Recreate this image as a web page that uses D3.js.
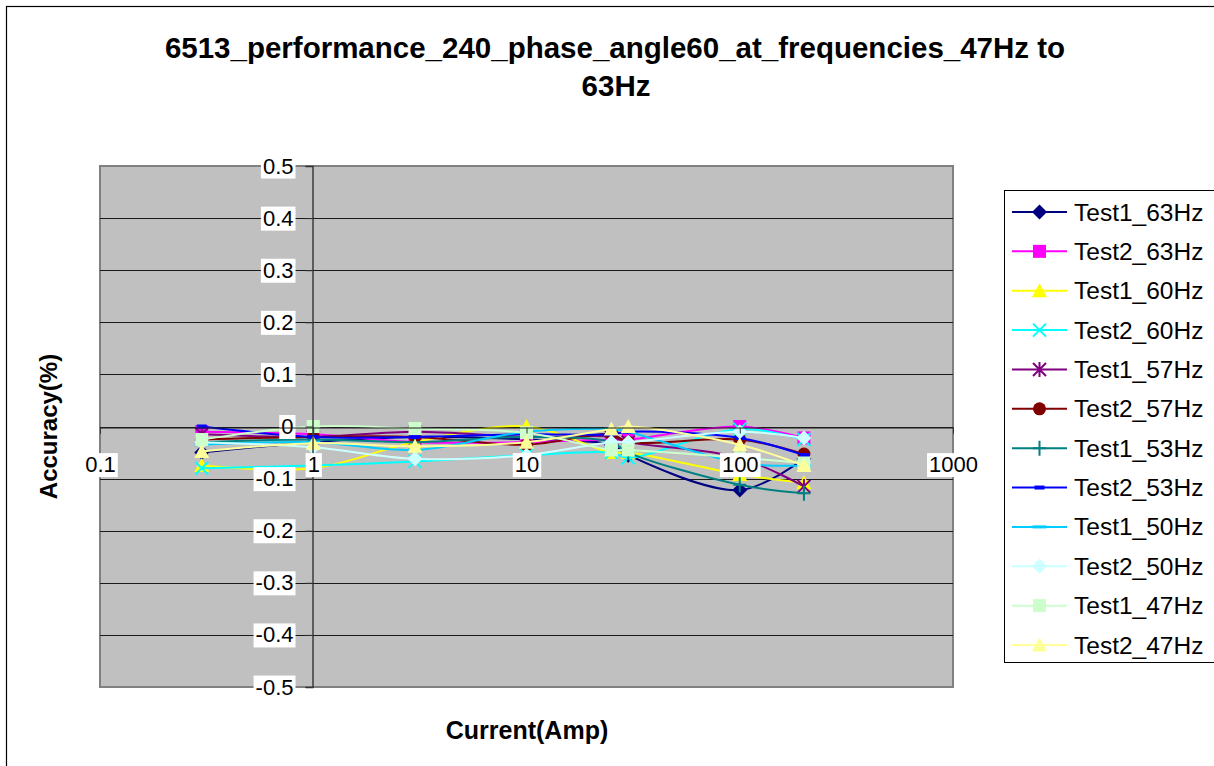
<!DOCTYPE html>
<html>
<head>
<meta charset="utf-8">
<script src="https://cdn.jsdelivr.net/npm/d3@7"></script>
<style>
  html, body { margin: 0; padding: 0; background: #fff; }
  svg { display: block; font-family: "Liberation Sans", Arial, sans-serif; }
</style>
</head>
<body>
<svg id="chart" width="1214" height="766"></svg>
<script>
// Test currents (A) on a log axis
const currents = [0.3, 1, 3, 10, 25, 30, 100, 200];

// Accuracy (%) per test run
const test1_63Hz = [-0.050, -0.030, -0.020, -0.025, -0.035, -0.055, -0.122, -0.062];
const test2_63Hz = [-0.010, -0.015, -0.030, -0.030, -0.025, -0.025,  0.000, -0.022];
const test1_60Hz = [-0.075, -0.080, -0.030,  0.000, -0.050, -0.050, -0.092, -0.108];
const test2_60Hz = [-0.080, -0.075, -0.067, -0.055, -0.050, -0.060, -0.005, -0.025];
const test1_57Hz = [-0.015, -0.020, -0.010, -0.020, -0.020, -0.030, -0.060, -0.115];
const test2_57Hz = [-0.025, -0.020, -0.020, -0.035, -0.015, -0.030, -0.025, -0.053];
const test1_53Hz = [-0.030, -0.025, -0.030, -0.020, -0.030, -0.050, -0.112, -0.128];
const test2_53Hz = [ 0.000, -0.020, -0.020, -0.015, -0.015, -0.010, -0.022, -0.055];
const test1_50Hz = [-0.035, -0.030, -0.045, -0.010, -0.005, -0.010, -0.070, -0.075];
const test2_50Hz = [-0.030, -0.040, -0.062, -0.055, -0.030, -0.030, -0.010, -0.022];
const test1_47Hz = [-0.025,  0.000, -0.004, -0.012, -0.045, -0.045, -0.060, -0.070];
const test2_47Hz = [-0.048, -0.032, -0.038, -0.030, -0.005,  0.000, -0.035, -0.075];

const seriesNames = ["Test1_63Hz", "Test2_63Hz", "Test1_60Hz", "Test2_60Hz", "Test1_57Hz", "Test2_57Hz",
                     "Test1_53Hz", "Test2_53Hz", "Test1_50Hz", "Test2_50Hz", "Test1_47Hz", "Test2_47Hz"];
const seriesValues = [test1_63Hz, test2_63Hz, test1_60Hz, test2_60Hz, test1_57Hz, test2_57Hz,
                      test1_53Hz, test2_53Hz, test1_50Hz, test2_50Hz, test1_47Hz, test2_47Hz];
const seriesColors = ["#000080", "#FF00FF", "#FFFF00", "#00FFFF", "#800080", "#800000",
                      "#008080", "#0000FF", "#00CCFF", "#CCFFFF", "#CCFFCC", "#FFFF99"];
const seriesMarkers = ["diamond", "square", "triangle", "x", "star", "circle",
                       "plus", "dash", "longdash", "diamond", "square", "triangle"];

const xTicks = [0.1, 1, 10, 100, 1000];
const yTicks = [-0.5, -0.4, -0.3, -0.2, -0.1, 0, 0.1, 0.2, 0.3, 0.4, 0.5];

const series = seriesNames.map((name, i) => ({
  name,
  color: seriesColors[i],
  marker: seriesMarkers[i],
  points: currents.map((c, j) => ({ x: c, y: seriesValues[i][j] }))
}));

const svg = d3.select("#chart");
const plot = { left: 100, right: 953, top: 166, bottom: 687 };

const x = d3.scaleLog().domain([0.1, 1000]).range([plot.left, plot.right]);
const y = d3.scaleLinear().domain([-0.5, 0.5]).range([plot.bottom, plot.top]);

// plain hyphen-minus number labels
const fmt = d => String(+d.toFixed(1));

// outer chart frame (continues past the page edge)
svg.append("rect")
  .attr("x", 6.5).attr("y", 6.5).attr("width", 1300).attr("height", 900)
  .attr("fill", "#fff").attr("stroke", "#000").attr("stroke-width", 1.2);

// title
const title = svg.append("text")
  .attr("text-anchor", "middle")
  .attr("font-weight", "bold").attr("font-size", 29.5).attr("fill", "#000");
title.append("tspan").attr("x", 615).attr("y", 58)
  .text("6513_performance_240_phase_angle60_at_frequencies_47Hz to");
title.append("tspan").attr("x", 616).attr("y", 96).text("63Hz");

// plot area
svg.append("rect")
  .attr("x", plot.left).attr("y", plot.top)
  .attr("width", plot.right - plot.left).attr("height", plot.bottom - plot.top)
  .attr("fill", "#C0C0C0").attr("stroke", "#808080").attr("stroke-width", 2);

// horizontal gridlines
svg.append("g").selectAll("line")
  .data(yTicks.filter(t => t > -0.5 && t < 0.5))
  .join("line")
  .attr("x1", plot.left).attr("x2", plot.right)
  .attr("y1", d => Math.round(y(d)) + 0.5).attr("y2", d => Math.round(y(d)) + 0.5)
  .attr("stroke", "#1a1a1a").attr("stroke-width", 1);

// marker drawing
function drawMarker(g, type, color, cx, cy) {
  const s = 6.5;
  switch (type) {
    case "diamond":
      g.append("path").attr("d", `M${cx},${cy - s - 1}L${cx + s + 1},${cy}L${cx},${cy + s + 1}L${cx - s - 1},${cy}Z`)
        .attr("fill", color);
      break;
    case "square":
      g.append("rect").attr("x", cx - s).attr("y", cy - s).attr("width", 2 * s).attr("height", 2 * s)
        .attr("fill", color);
      break;
    case "triangle":
      g.append("path").attr("d", `M${cx},${cy - s - 1}L${cx + s + 1},${cy + s}L${cx - s - 1},${cy + s}Z`)
        .attr("fill", color);
      break;
    case "circle":
      g.append("circle").attr("cx", cx).attr("cy", cy).attr("r", s).attr("fill", color);
      break;
    case "x":
      g.append("path").attr("d", `M${cx - s},${cy - s}L${cx + s},${cy + s}M${cx - s},${cy + s}L${cx + s},${cy - s}`)
        .attr("stroke", color).attr("stroke-width", 2).attr("fill", "none");
      break;
    case "star":
      g.append("path").attr("d", `M${cx - s},${cy - s}L${cx + s},${cy + s}M${cx - s},${cy + s}L${cx + s},${cy - s}M${cx},${cy - s - 1}L${cx},${cy + s + 1}`)
        .attr("stroke", color).attr("stroke-width", 2).attr("fill", "none");
      break;
    case "plus":
      g.append("path").attr("d", `M${cx - s},${cy}L${cx + s},${cy}M${cx},${cy - s - 1}L${cx},${cy + s + 1}`)
        .attr("stroke", color).attr("stroke-width", 2).attr("fill", "none");
      break;
    case "dash":
      g.append("rect").attr("x", cx - 5).attr("y", cy - 2).attr("width", 10).attr("height", 4)
        .attr("fill", color);
      break;
    case "longdash":
      g.append("rect").attr("x", cx - 7).attr("y", cy - 1.5).attr("width", 14).attr("height", 3)
        .attr("fill", color);
      break;
  }
}

// series lines and markers, drawn in series order
const line = d3.line().x(d => x(d.x)).y(d => y(d.y)).curve(d3.curveCatmullRom.alpha(0.5));
const seriesG = svg.append("g");
series.forEach(s => {
  const g = seriesG.append("g");
  g.append("path").attr("d", line(s.points))
    .attr("fill", "none").attr("stroke", s.color).attr("stroke-width", 2);
  s.points.forEach(p => drawMarker(g, s.marker, s.color, x(p.x), y(p.y)));
});

// axes on top: y axis crosses at 1 A, x axis crosses at 0 %
const yAxisX = Math.round(x(1)) - 0.5;
const xAxisY = Math.round(y(0)) + 0.5;

const yAxis = d3.axisLeft(y).tickValues(yTicks).tickSize(7).tickPadding(12).tickFormat(fmt);
const yAxisG = svg.append("g").attr("transform", `translate(${yAxisX},0)`).call(yAxis);
yAxisG.select(".domain").attr("stroke", "#333").attr("stroke-width", 1.4);
yAxisG.selectAll(".tick line").attr("stroke", "#333");
yAxisG.selectAll(".tick text")
  .attr("font-size", 22).attr("fill", "#000")
  .attr("font-family", "'Liberation Sans', Arial, sans-serif");

const xAxis = d3.axisBottom(x).tickValues(xTicks).tickSize(6).tickPadding(23).tickFormat(fmt);
const xAxisG = svg.append("g").attr("transform", `translate(0,${xAxisY})`).call(xAxis);
xAxisG.select(".domain").attr("stroke", "#1a1a1a").attr("stroke-width", 1);
xAxisG.selectAll(".tick line").attr("stroke", "#333");
xAxisG.selectAll(".tick text")
  .attr("font-size", 22).attr("fill", "#000")
  .attr("font-family", "'Liberation Sans', Arial, sans-serif");

// white backgrounds behind tick labels
function boxLabels(g) {
  g.selectAll(".tick").each(function () {
    const t = d3.select(this).select("text");
    const b = t.node().getBBox();
    d3.select(this).insert("rect", "text")
      .attr("x", b.x - 2).attr("y", b.y + 1)
      .attr("width", b.width + 4).attr("height", b.height - 1)
      .attr("fill", "#fff");
  });
}
boxLabels(yAxisG);
boxLabels(xAxisG);

// axis titles
svg.append("text")
  .attr("transform", `translate(48,${y(0)}) rotate(-90)`)
  .attr("text-anchor", "middle").attr("dominant-baseline", "central")
  .attr("font-weight", "bold").attr("font-size", 24).text("Accuracy(%)");
svg.append("text")
  .attr("x", 527).attr("y", 730)
  .attr("text-anchor", "middle").attr("dominant-baseline", "central")
  .attr("font-weight", "bold").attr("font-size", 25).text("Current(Amp)");

// legend
const legend = svg.append("g");
legend.append("rect")
  .attr("x", 1004.5).attr("y", 190.5).attr("width", 260).attr("height", 472)
  .attr("fill", "#fff").attr("stroke", "#000").attr("stroke-width", 1);
const rowY = d3.scaleLinear().domain([0, 11]).range([212, 645]);
series.forEach((s, i) => {
  const ry = rowY(i);
  const g = legend.append("g");
  g.append("line").attr("x1", 1012).attr("x2", 1067).attr("y1", ry).attr("y2", ry)
    .attr("stroke", s.color).attr("stroke-width", 2);
  drawMarker(g, s.marker, s.color, 1039.5, ry);
  g.append("text").attr("x", 1074).attr("y", ry)
    .attr("dominant-baseline", "central").attr("font-size", 24.5).text(s.name);
});
</script>
</body>
</html>
